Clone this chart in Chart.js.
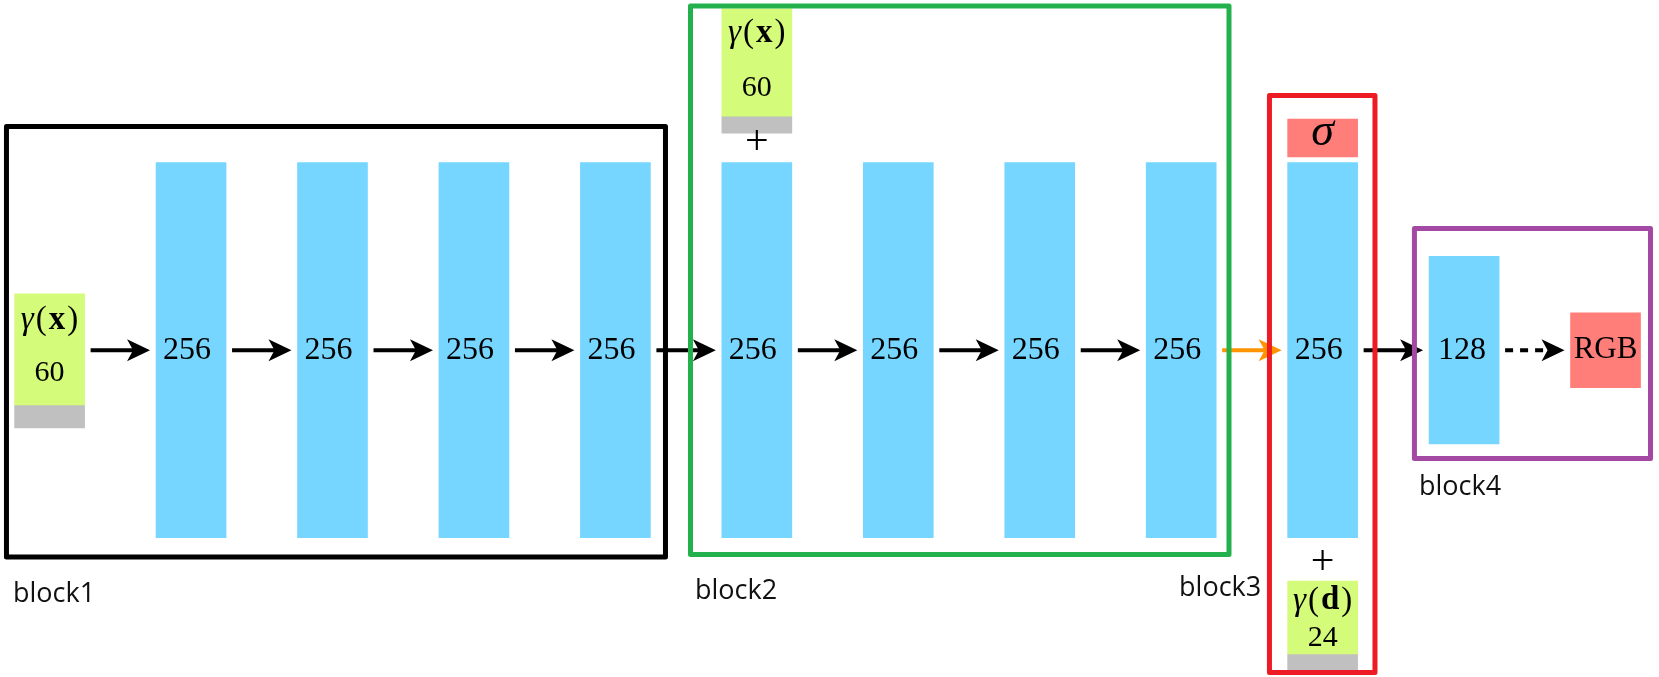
<!DOCTYPE html>
<html>
<head>
<meta charset="utf-8">
<script src="https://cdn.jsdelivr.net/npm/chart.js@4/dist/chart.umd.min.js"></script>
<style>
  html, body { margin: 0; padding: 0; background: #fff; }
  #wrap { width: 1659px; height: 677px; position: relative; }
</style>
</head>
<body>
<div id="wrap"><canvas id="mlp-chart"></canvas></div>
<script>
// ---- data: MLP layers (width = neurons) ----
const layerSlots  = [1, 2, 3, 4, 5, 6, 7, 8, 9];
const layerWidths = [256, 256, 256, 256, 256, 256, 256, 256, 256];
const headSlots   = [10];
const headWidths  = [128];

// inputs: positional encodings
const inputSlots = [0, 5, 9];
const inputNames = ['x', 'x', 'd'];
const inputDims  = [60, 60, 24];

// outputs
const outputSlots = [9, 11];
const outputNames = ['σ', 'RGB'];

// blocks
const blockNames = ['block1', 'block2', 'block3', 'block4'];

// ---- layout (axis units: x = slot, y = neurons from centre line) ----
const inputBoxes  = [[-37.4, 38.4], [159.8, 232.9], [-207.3, -157.5]];
const padBoxes    = [[-53.1, -37.4], [148.2, 159.8], [-218.2, -207.3]];
const outputBoxes = [[131.9, 157.8], [-25.6, 25.6]];
const nameY = [20.6, 216.5, -171.1];
const dimY  = [-15.5, 178.9, -196.4];
const plusMarks = [[5, 141.4], [9, -145.2]];
const outputTextY = [148.2, 0];
const frames = [
    { x: [-0.305, 4.354], y: [-141.1, 152.7], color: '#000000' },
    { x: [4.531, 8.338],  y: [-139.4, 234.9], color: '#22B14C' },
    { x: [8.624, 9.370],  y: [-219.9, 173.8], color: '#ED1C24' },
    { x: [9.649, 11.318], y: [-73.9, 83.1],   color: '#A349A4' }
];
const blockPos = [[-0.259, -171.8], [4.563, -169.8], [7.985, -167.7], [9.681, -98.8]];

const BLUE = '#76D6FF';
const LIME = '#D4FB79';
const GREY = '#C0C0C0';
const SALMON = '#FF7E79';
const SERIF = '"Liberation Serif", "Times New Roman", serif';

function rectData(slots, ranges) {
    return slots.map((s, i) => ({ x: s, y: ranges[i] }));
}

function frameData(f) {
    return [
        { x: f.x[0], y: f.y[1] }, { x: f.x[1], y: f.y[1] },
        { x: f.x[1], y: f.y[0] }, { x: f.x[0], y: f.y[0] },
        { x: f.x[0], y: f.y[1] }
    ];
}

const barCommon = {
    type: 'bar',
    grouped: false,
    barThickness: 70,
    maxBarThickness: 70,
    borderWidth: 0,
    order: 3
};

const datasets = [
    { ...barCommon, label: 'layers', backgroundColor: BLUE,
      data: layerSlots.map((s, i) => ({ x: s, y: [-layerWidths[i] / 2, layerWidths[i] / 2] })) },
    { ...barCommon, label: 'head', backgroundColor: BLUE,
      data: headSlots.map((s, i) => ({ x: s, y: [-headWidths[i] / 2, headWidths[i] / 2] })) },
    { ...barCommon, label: 'inputs', backgroundColor: LIME, data: rectData(inputSlots, inputBoxes) },
    { ...barCommon, label: 'pad', backgroundColor: GREY, data: rectData(inputSlots, padBoxes) },
    { ...barCommon, label: 'outputs', backgroundColor: SALMON, data: rectData(outputSlots, outputBoxes) }
];

frames.forEach((f, i) => {
    datasets.push({
        type: 'line',
        label: blockNames[i],
        data: frameData(f),
        borderColor: f.color,
        borderWidth: 5,
        borderJoinStyle: 'round',
        borderCapStyle: 'round',
        pointRadius: 0,
        tension: 0,
        fill: false,
        order: 1
    });
});

function drawArrow(ctx, x0, x1, y, color, dashed) {
    ctx.save();
    ctx.strokeStyle = color;
    ctx.fillStyle = color;
    ctx.lineWidth = 4;
    if (dashed) ctx.setLineDash([8, 7]);
    ctx.beginPath();
    ctx.moveTo(x0, y);
    ctx.lineTo(x1 - 16, y);
    ctx.stroke();
    ctx.setLineDash([]);
    ctx.beginPath();
    ctx.moveTo(x1, y);
    ctx.lineTo(x1 - 23, y - 11);
    ctx.lineTo(x1 - 17, y);
    ctx.lineTo(x1 - 23, y + 11);
    ctx.closePath();
    ctx.fill();
    ctx.restore();
}

function drawRich(ctx, parts, cx, cy, gap) {
    let total = 0;
    const widths = parts.map(p => {
        ctx.font = p[1];
        const w = ctx.measureText(p[0]).width;
        total += w;
        return w;
    });
    total += gap * (parts.length - 1);
    let x = cx - total / 2;
    ctx.textAlign = 'left';
    ctx.textBaseline = 'middle';
    parts.forEach((p, i) => {
        ctx.font = p[1];
        ctx.fillText(p[0], x, cy);
        x += widths[i] + gap;
    });
}

// arrows: [from slot, to slot, colour, dashed]
const arrows = [];
for (let s = 0; s < 10; s++) arrows.push([s, s + 1, s === 8 ? '#FF9300' : '#000000', false]);
arrows.push([10, 11, '#000000', true]);

const diagramPlugin = {
    id: 'diagram',
    beforeDatasetsDraw(chart) {
        const { ctx, scales: { x, y } } = chart;
        const cy = y.getPixelForValue(0);
        arrows.forEach(a => {
            const x0 = x.getPixelForValue(a[0]) + 35 + 6;
            const x1 = x.getPixelForValue(a[1]) - 35 - 6;
            drawArrow(ctx, x0, x1, cy, a[2], a[3]);
        });
    },
    afterDatasetsDraw(chart) {
        const { ctx, scales: { x, y } } = chart;
        ctx.save();
        ctx.fillStyle = '#000';

        // layer widths
        ctx.font = '32px ' + SERIF;
        ctx.textAlign = 'center';
        ctx.textBaseline = 'middle';
        layerSlots.forEach((s, i) => {
            ctx.fillText(String(layerWidths[i]), x.getPixelForValue(s) - 4, y.getPixelForValue(0));
        });
        headSlots.forEach((s, i) => {
            ctx.fillText(String(headWidths[i]), x.getPixelForValue(s) - 2, y.getPixelForValue(0));
        });

        // inputs γ(·) and dims
        inputSlots.forEach((s, i) => {
            const px = x.getPixelForValue(s);
            drawRich(ctx, [
                ['γ', 'italic 33px ' + SERIF],
                ['(', '33px ' + SERIF],
                [inputNames[i], 'bold 33px ' + SERIF],
                [')', '33px ' + SERIF]
            ], px, y.getPixelForValue(nameY[i]), 2);
            ctx.font = '30px ' + SERIF;
            ctx.textAlign = 'center';
            ctx.fillText(String(inputDims[i]), px, y.getPixelForValue(dimY[i]));
        });

        // plus signs
        ctx.font = '42px ' + SERIF;
        ctx.textAlign = 'center';
        plusMarks.forEach(p => ctx.fillText('+', x.getPixelForValue(p[0]), y.getPixelForValue(p[1])));

        // outputs
        outputSlots.forEach((s, i) => {
            ctx.font = i === 0 ? 'italic 46px ' + SERIF : '31px ' + SERIF;
            ctx.fillText(outputNames[i], x.getPixelForValue(s), y.getPixelForValue(outputTextY[i]));
        });

        // block names
        ctx.font = '27px "Open Sans", "Noto Sans", sans-serif';
        ctx.fillStyle = '#111';
        ctx.textAlign = 'left';
        ctx.textBaseline = 'alphabetic';
        blockNames.forEach((n, i) => {
            ctx.fillText(n, x.getPixelForValue(blockPos[i][0]), y.getPixelForValue(blockPos[i][1]));
        });
        ctx.restore();
    }
};

const canvas = document.getElementById('mlp-chart');
new Chart(canvas, {
    type: 'bar',
    data: { datasets: datasets },
    options: {
        responsive: true,
        maintainAspectRatio: false,
        animation: false,
        events: [],
        clip: false,
        layout: { padding: 0 },
        plugins: { legend: { display: false }, tooltip: { enabled: false } },
        scales: {
            x: { type: 'linear', min: -0.3507, max: 11.378, offset: false, display: false,
                 ticks: { stepSize: 1 }, grid: { display: false } },
            y: { type: 'linear', min: -223, max: 239, display: false, beginAtZero: false,
                 grid: { display: false } }
        }
    },
    plugins: [diagramPlugin]
});
</script>
</body>
</html>
